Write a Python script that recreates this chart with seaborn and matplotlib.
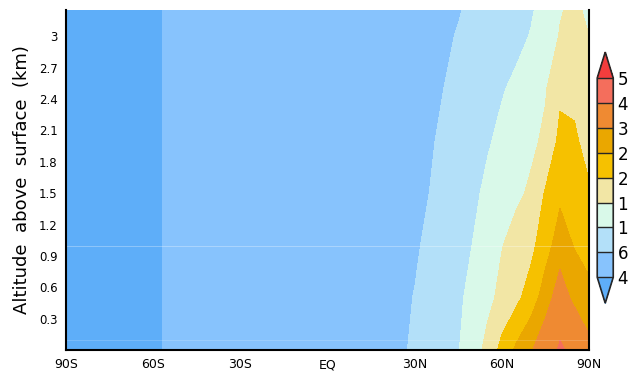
import numpy as np
import matplotlib
matplotlib.use("Agg")
import matplotlib.pyplot as plt
import seaborn as sns
from matplotlib.colors import ListedColormap, BoundaryNorm

sns.set_theme(style="white")
plt.rcParams['font.family'] = ['DejaVu Sans']
plt.rcParams['text.color'] = 'black'
plt.rcParams['axes.labelcolor'] = 'black'
plt.rcParams['xtick.color'] = 'black'
plt.rcParams['ytick.color'] = 'black'

# grid
lats = [-90, -60, -55, 0, 25, 30, 35, 40, 45, 50, 55, 60, 65, 70, 75, 80, 85, 90]
alts = [0.0, 0.5, 1.0, 1.5, 2.0, 2.5, 3.0, 3.3]

# field values, one row per altitude
row_00 = [3, 3.6, 4.2, 4.8, 5.8, 6.2, 7.0, 8.0, 9.8, 12.5, 16.5, 21.5, 26.0, 29.5, 34.0, 41.5, 37.0, 31.5]
row_05 = [3, 3.6, 4.2, 4.8, 5.7, 6.05, 7.0, 8.0, 9.3, 11.2, 13.6, 16.4, 18.8, 22.4, 27.5, 33.0, 28.5, 26.5]
row_10 = [3, 3.6, 4.2, 5.0, 5.5, 5.8, 6.3, 7.3, 8.5, 10.1, 12.5, 14.8, 17.2, 18.6, 23.0, 27.5, 24.7, 23.0]
row_15 = [3, 3.6, 4.2, 5.0, 5.4, 5.7, 6.0, 6.9, 8.0, 9.2, 10.8, 12.3, 14.0, 15.8, 20.5, 24.0, 22.5, 20.5]
row_20 = [3, 3.6, 4.2, 5.0, 5.3, 5.6, 5.8, 6.3, 7.3, 8.4, 9.6, 10.9, 12.3, 14.0, 15.9, 21.3, 20.6, 18.5]
row_25 = [3, 3.6, 4.2, 5.0, 5.2, 5.4, 5.65, 6.0, 6.7, 7.6, 8.6, 9.7, 10.8, 12.5, 14.6, 19.0, 19.0, 16.5]
row_30 = [3, 3.6, 4.2, 5.0, 5.1, 5.3, 5.5, 5.75, 6.1, 6.8, 7.5, 8.2, 9.0, 10.2, 12.5, 15.3, 15.8, 15.0]
row_33 = [3, 3.6, 4.2, 5.0, 5.05, 5.2, 5.4, 5.6, 5.85, 6.3, 7.0, 7.7, 8.5, 9.5, 11.2, 14.5, 16.0, 13.5]

levels = [4, 6, 10, 15, 20, 25, 30, 40, 50]
level_labels = ["4", "6", "1", "1", "2", "2", "3", "4", "5"]
colors = ["#5eaef9", "#87c3fd", "#b3e0f9", "#d9f9e9", "#f2e6a5",
          "#f6c100", "#eaa700", "#ef8a32", "#f46e5c", "#f23d3d"]

lat_ticks = [-90, -60, -30, 0, 30, 60, 90]
lat_labels = ["90S", "60S", "30S", "EQ", "30N", "60N", "90N"]
alt_ticks = [0.3, 0.6, 0.9, 1.2, 1.5, 1.8, 2.1, 2.4, 2.7, 3.0]
alt_labels = ["0.3", "0.6", "0.9", "1.2", "1.5", "1.8", "2.1", "2.4", "2.7", "3"]

Z = np.array([row_00, row_05, row_10, row_15, row_20, row_25, row_30, row_33])

cmap = ListedColormap(colors[1:-1])
cmap.set_under(colors[0])
cmap.set_over(colors[-1])
norm = BoundaryNorm(levels, cmap.N)

fig = plt.figure(figsize=(6.28, 3.72), dpi=100)
ax = fig.add_axes([0.105, 0.059, 0.833, 0.914])
cs = ax.contourf(lats, alts, Z, levels=levels, cmap=cmap, norm=norm, extend='both')

# faint seams between stacked panels
ax.axhline(0.99, color='white', lw=0.6, alpha=0.35)
ax.axhline(0.10, color='white', lw=0.6, alpha=0.2)

ax.set_xlim(-90, 90)
ax.set_ylim(0, 3.25)
ax.set_xticks(lat_ticks)
ax.set_xticklabels(lat_labels, fontsize=9)
ax.set_yticks(alt_ticks)
ax.set_yticklabels(alt_labels, fontsize=8.5)
ax.tick_params(direction='out', length=4, width=1, color='black', pad=2)
ax.set_ylabel("Altitude  above  surface  (km)", fontsize=13, labelpad=6)
for side in ['left', 'bottom', 'right']:
    ax.spines[side].set_color('black')
    ax.spines[side].set_linewidth(1.5)
ax.spines['top'].set_visible(False)

cax = fig.add_axes([0.951, 0.185, 0.0255, 0.675])
cb = fig.colorbar(cs, cax=cax, extendfrac=0.13, drawedges=True, ticks=levels)
cb.set_ticklabels(level_labels)
cb.ax.tick_params(length=0, labelsize=12, pad=3, labelcolor='black')
cb.outline.set_linewidth(1.2)
cb.dividers.set_linewidth(1.0)

fig.savefig("out.png", dpi=100)
